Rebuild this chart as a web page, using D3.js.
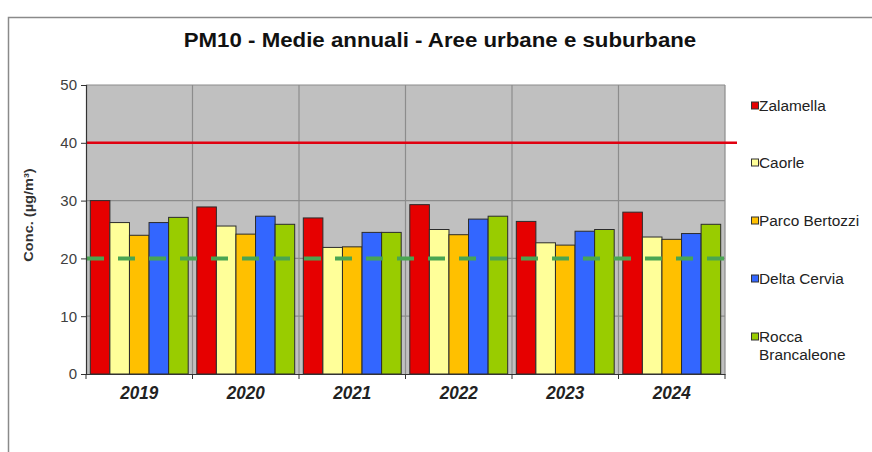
<!DOCTYPE html>
<html><head><meta charset="utf-8">
<script src="https://cdn.jsdelivr.net/npm/d3@7"></script>
<style>body{margin:0;background:#fff}svg{display:block}</style>
</head><body>
<svg id="c" width="872" height="452"></svg>
<script>
const years = ["2019","2020","2021","2022","2023","2024"];
const seriesNames = ["Zalamella","Caorle","Parco Bertozzi","Delta Cervia","Rocca Brancaleone"];
const zalamella = [30.0, 28.9, 27.0, 29.3, 26.4, 28.0];
const caorle    = [26.2, 25.6, 21.9, 25.0, 22.7, 23.7];
const parco     = [24.0, 24.2, 22.0, 24.1, 22.3, 23.3];
const delta     = [26.2, 27.3, 24.5, 26.8, 24.7, 24.3];
const rocca     = [27.1, 25.9, 24.5, 27.3, 25.0, 25.9];
const yTicks = [0,10,20,30,40,50];
const limitValue = 40;
const guideValue = 20;
const colors = ["#e60000","#ffff99","#ffc000","#3366ff","#99cc00"];

(function(){
const allSeries = [zalamella, caorle, parco, delta, rocca];
const svg = d3.select("#c");
const font = "'Liberation Sans', Arial, sans-serif";
function stretch(sel, f){
  sel.each(function(){
    const w = this.getComputedTextLength();
    d3.select(this).attr("textLength", w*f).attr("lengthAdjust","spacingAndGlyphs");
  });
}

svg.append("rect").attr("x",8.5).attr("y",17.5).attr("width",900).attr("height",500)
  .attr("fill","none").attr("stroke","#8a8a8a").attr("stroke-width",1.5);

const pL=86, pR=725, pT=85, pB=374;
const x0 = d3.scaleBand().domain(years).range([pL,pR]).paddingInner(0).paddingOuter(0);
const x1 = d3.scaleBand().domain(seriesNames).range([0,x0.bandwidth()]).paddingInner(0).paddingOuter(0.22);
const y = d3.scaleLinear().domain([0,50]).range([pB,pT]);

svg.append("rect").attr("x",pL).attr("y",pT).attr("width",pR-pL).attr("height",pB-pT)
  .attr("fill","#c0c0c0");

svg.append("g").selectAll("line").data(yTicks.filter(d=>d>0)).join("line")
  .attr("x1",pL).attr("x2",pR).attr("y1",d=>y(d)).attr("y2",d=>y(d))
  .attr("stroke","#8c8c8c").attr("stroke-width",1.2);
svg.append("g").selectAll("line").data(years.slice(1)).join("line")
  .attr("x1",d=>x0(d)).attr("x2",d=>x0(d)).attr("y1",pT).attr("y2",pB)
  .attr("stroke","#8c8c8c").attr("stroke-width",1.2);
svg.append("line").attr("x1",pR).attr("x2",pR).attr("y1",pT).attr("y2",pB)
  .attr("stroke","#8c8c8c").attr("stroke-width",1.2);

const g = svg.append("g");
years.forEach((yr,i)=>{
  seriesNames.forEach((s,j)=>{
    g.append("rect")
      .attr("x",x0(yr)+x1(s)).attr("y",y(allSeries[j][i]))
      .attr("width",x1.bandwidth()).attr("height",y(0)-y(allSeries[j][i]))
      .attr("fill",colors[j]).attr("stroke","#2b2b2b").attr("stroke-width",1);
  });
});

svg.append("line").attr("x1",pL).attr("x2",737).attr("y1",y(limitValue)).attr("y2",y(limitValue))
  .attr("stroke","#e00010").attr("stroke-width",2.5);
svg.append("line").attr("x1",pL+1).attr("x2",pR+2).attr("y1",y(guideValue)).attr("y2",y(guideValue))
  .attr("stroke","#4aa552").attr("stroke-width",4).attr("stroke-dasharray","17,14");

const ya = svg.append("g").attr("transform",`translate(${pL},0)`)
  .call(d3.axisLeft(y).tickValues(yTicks).tickSize(5).tickPadding(4));
ya.select(".domain").attr("stroke","#333").attr("stroke-width",1.2);
ya.selectAll(".tick line").attr("stroke","#333");
ya.selectAll("text").attr("font-family",font).attr("font-size",15).attr("fill","#404040");

const xa = svg.append("g").attr("transform",`translate(0,${pB})`)
  .call(d3.axisBottom(x0).tickSize(0).tickPadding(14));
xa.select(".domain").attr("stroke","#333").attr("stroke-width",1.2);
xa.selectAll("text").attr("font-family",font).attr("font-size",19).attr("font-weight","bold")
  .attr("font-style","italic").attr("fill","#222").attr("dy","0.6em");
stretch(xa.selectAll("text"), 0.9);
svg.append("g").selectAll("line").data(years.concat(["end"])).join("line")
  .attr("x1",d=>d==="end"?pR:x0(d)).attr("x2",d=>d==="end"?pR:x0(d))
  .attr("y1",pB).attr("y2",pB+5).attr("stroke","#333");

const at = svg.append("text").attr("transform","translate(33,215) rotate(-90)")
  .attr("text-anchor","middle").attr("font-family",font).attr("font-size",13)
  .attr("font-weight","bold").attr("fill","#333").text("Conc. (µg/m³)");
stretch(at, 1.12);

const title = svg.append("text").attr("x",440).attr("y",47).attr("text-anchor","middle")
  .attr("font-family",font).attr("font-size",21).attr("font-weight","bold")
  .attr("fill","#111").text("PM10 - Medie annuali - Aree urbane e suburbane");
stretch(title, 1.06);

const legY = [106, 163, 221, 279, 337];
seriesNames.forEach((s,j)=>{
  svg.append("rect").attr("x",751.5).attr("y",legY[j]-4).attr("width",7).attr("height",7)
    .attr("fill",colors[j]).attr("stroke","#333").attr("stroke-width",1);
  const t = svg.append("text").attr("x",759).attr("y",legY[j]+5)
    .attr("font-family",font).attr("font-size",14).attr("fill","#222");
  if (s === "Rocca Brancaleone") {
    t.append("tspan").attr("x",759).text("Rocca");
    t.append("tspan").attr("x",759).attr("dy",18).text("Brancaleone");
    stretch(t.selectAll("tspan"), 1.1);
  } else { t.text(s); stretch(t, 1.1); }
});
})();
</script>
</body></html>
